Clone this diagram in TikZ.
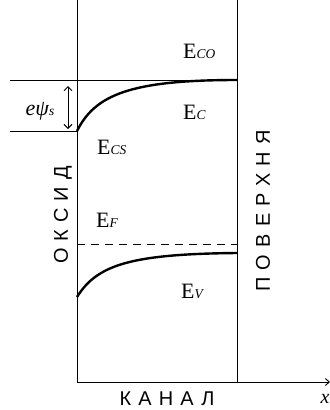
\documentclass[tikz,border=0pt]{standalone}
\usepackage{fontspec}
\setmainfont{Liberation Serif}
\newfontfamily\cyrfont{Liberation Sans}[LetterSpace=36]
\usetikzlibrary{arrows.meta}
\newcommand\Elabel[1]{{\fontsize{22}{22}\selectfont E}{\fontsize{13.5}{13.5}\selectfont\itshape #1}}
\begin{document}
\begin{tikzpicture}[x=1bp,y=-1bp,
  thinline/.style={line width=0.9bp},
  bandcurve/.style={line width=2.4bp},
  elbl/.style={anchor=base west, inner sep=0},
  cyrlbl/.style={inner sep=0, font=\cyrfont\fontsize{20}{20}\selectfont}]
\useasboundingbox (0,0) rectangle (330,410);
\coordinate (oxT) at (77,0);
\coordinate (oxB) at (77,382);
\coordinate (suT) at (237,0);
\coordinate (suB) at (237,382);
\coordinate (axE) at (330,382);
\coordinate (ecoL) at (10,80);
\coordinate (ecoR) at (237,80);
\coordinate (ecsL) at (10,131);
\coordinate (ecsR) at (77,131);
\coordinate (efL) at (77,244);
\coordinate (efR) at (237,244);
\coordinate (evL) at (77,297);
\coordinate (evR) at (237,253);
\coordinate (arT) at (68,86);
\coordinate (arB) at (68,129);
% frame
\draw[thinline] (oxT) -- (oxB);
\draw[thinline] (suT) -- (suB);
\draw[thinline,-{Straight Barb[length=4bp,width=7bp]}] (oxB) -- (axE);
% levels
\draw[thinline] (ecoL) -- (ecoR);
\draw[thinline] (ecsL) -- (ecsR);
\draw[thinline,dash pattern=on 8bp off 6bp] (efL) -- (efR);
\draw[thinline,{Straight Barb[length=4bp,width=8bp]}-{Straight Barb[length=4bp,width=8bp]}] (arT) -- (arB);
% bands
\draw[bandcurve] (ecsR) .. controls (95,95) and (130,80) .. (ecoR);
\draw[bandcurve] (evL) .. controls (97,265) and (130,254) .. (evR);
% labels
\node[elbl] (eco) at (183,58) {\Elabel{CO}};
\node[elbl] (ec) at (183,119) {\Elabel{C}};
\node[elbl] (ecs) at (97,154) {\Elabel{CS}};
\node[elbl] (ef) at (96,227) {\Elabel{F}};
\node[elbl] (ev) at (181,298) {\Elabel{V}};
\node[anchor=base, inner sep=0] (psi) at (40,115) {\fontsize{22}{22}\selectfont\itshape eψ{\fontsize{13.5}{13.5}\selectfont s}};
\node[cyrlbl, rotate=90] (oxide) at (63,215) {ОКСИД};
\node[cyrlbl, rotate=90] (surf) at (263,211) {ПОВЕРХНЯ};
\node[cyrlbl] (chan) at (167,399) {КАНАЛ};
\node[anchor=base, inner sep=0] (xlbl) at (325,403) {\fontsize{20}{20}\selectfont\itshape x};
\end{tikzpicture}
\end{document}
